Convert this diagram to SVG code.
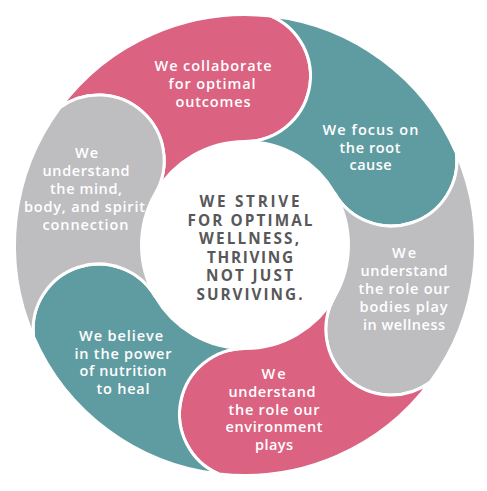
<svg xmlns="http://www.w3.org/2000/svg" width="487" height="491" viewBox="0 0 487 491">
<style>
.seg{stroke:#fff;stroke-width:3;stroke-linejoin:round}
.pink{fill:#db6281}
.teal{fill:#5f9ca1}
.gray{fill:#bebdc0}
.lbl{font-family:"Open Sans","Liberation Sans",sans-serif;font-size:14.5px;font-weight:600;fill:#fff;text-anchor:middle}
.ctr{font-family:"Open Sans","Liberation Sans",sans-serif;font-size:15.3px;font-weight:700;fill:#58585a;text-anchor:middle}
</style>
<rect width="487" height="491" fill="#fff"/>
<g id="seg-collaborate">
<path class="seg pink" d="M59.83,107.74 A230.5,230.5 0 0 1 271.29,16.01 A65.5,65.5 0 0 1 245,141.5 A103.5,103.5 0 0 0 155.37,193.25 A65.5,65.5 0 0 0 59.83,107.74 Z"/>
<text class="lbl"><tspan x="213" y="71" textLength="117" lengthAdjust="spacing">We collaborate</tspan><tspan x="212" y="89" textLength="87" lengthAdjust="spacing">for optimal</tspan><tspan x="213" y="107" textLength="75" lengthAdjust="spacing">outcomes</tspan></text>
</g>
<g id="seg-root">
<path class="seg teal" d="M271.29,16.01 A230.5,230.5 0 0 1 456.46,153.27 A65.5,65.5 0 0 1 334.63,193.25 A103.5,103.5 0 0 0 245,141.5 A65.5,65.5 0 0 0 271.29,16.01 Z"/>
<text class="lbl"><tspan x="370.5" y="135" textLength="96" lengthAdjust="spacing">We focus on</tspan><tspan x="370" y="152.5" textLength="61" lengthAdjust="spacing">the root</tspan><tspan x="370.5" y="170" textLength="42" lengthAdjust="spacing">cause</tspan></text>
</g>
<g id="seg-bodies">
<path class="seg gray" d="M456.46,153.27 A230.5,230.5 0 0 1 430.17,382.26 A65.5,65.5 0 0 1 334.63,296.75 A103.5,103.5 0 0 0 334.63,193.25 A65.5,65.5 0 0 0 456.46,153.27 Z"/>
<text class="lbl"><tspan x="404" y="257.5" textLength="24" lengthAdjust="spacing">We</tspan><tspan x="404" y="275.5" textLength="87" lengthAdjust="spacing">understand</tspan><tspan x="404" y="293.5" textLength="91" lengthAdjust="spacing">the role our</tspan><tspan x="403.5" y="311.5" textLength="88" lengthAdjust="spacing">bodies play</tspan><tspan x="404" y="329.5" textLength="82" lengthAdjust="spacing">in wellness</tspan></text>
</g>
<g id="seg-environment">
<path class="seg pink" d="M430.17,382.26 A230.5,230.5 0 0 1 218.71,473.99 A65.5,65.5 0 0 1 245,348.5 A103.5,103.5 0 0 0 334.63,296.75 A65.5,65.5 0 0 0 430.17,382.26 Z"/>
<text class="lbl"><tspan x="273.5" y="379" textLength="24" lengthAdjust="spacing">We</tspan><tspan x="272" y="397" textLength="87" lengthAdjust="spacing">understand</tspan><tspan x="274" y="414.5" textLength="91" lengthAdjust="spacing">the role our</tspan><tspan x="274" y="432" textLength="97" lengthAdjust="spacing">environment</tspan><tspan x="274" y="449.6" textLength="38" lengthAdjust="spacing">plays</tspan></text>
</g>
<g id="seg-nutrition">
<path class="seg teal" d="M218.71,473.99 A230.5,230.5 0 0 1 33.54,336.73 A65.5,65.5 0 0 1 155.37,296.75 A103.5,103.5 0 0 0 245,348.5 A65.5,65.5 0 0 0 218.71,473.99 Z"/>
<text class="lbl"><tspan x="121" y="341" textLength="84" lengthAdjust="spacing">We believe</tspan><tspan x="123" y="358.5" textLength="97" lengthAdjust="spacing">in the power</tspan><tspan x="123" y="376" textLength="87" lengthAdjust="spacing">of nutrition</tspan><tspan x="123" y="393.5" textLength="53" lengthAdjust="spacing">to heal</tspan></text>
</g>
<g id="seg-mind">
<path class="seg gray" d="M33.54,336.73 A230.5,230.5 0 0 1 59.83,107.74 A65.5,65.5 0 0 1 155.37,193.25 A103.5,103.5 0 0 0 155.37,296.75 A65.5,65.5 0 0 0 33.54,336.73 Z"/>
<text class="lbl"><tspan x="86.5" y="158" textLength="23" lengthAdjust="spacing">We</tspan><tspan x="86" y="176" textLength="87" lengthAdjust="spacing">understand</tspan><tspan x="86" y="194" textLength="72" lengthAdjust="spacing">the mind,</tspan><tspan x="84.5" y="212" textLength="121" lengthAdjust="spacing">body, and spirit</tspan><tspan x="85.5" y="230" textLength="86" lengthAdjust="spacing">connection</tspan></text>
</g>
<g id="center">
<circle cx="245" cy="245" r="104" fill="#fff"/>
<text class="ctr"><tspan x="249.5" y="207" textLength="100" lengthAdjust="spacing">WE STRIVE</tspan><tspan x="250" y="225.5" textLength="125" lengthAdjust="spacing">FOR OPTIMAL</tspan><tspan x="249" y="244" textLength="100" lengthAdjust="spacing">WELLNESS,</tspan><tspan x="250" y="262.5" textLength="86" lengthAdjust="spacing">THRIVING</tspan><tspan x="249.5" y="281" textLength="87" lengthAdjust="spacing">NOT JUST</tspan><tspan x="249.5" y="299.5" textLength="106" lengthAdjust="spacing">SURVIVING.</tspan></text>
</g>
</svg>
